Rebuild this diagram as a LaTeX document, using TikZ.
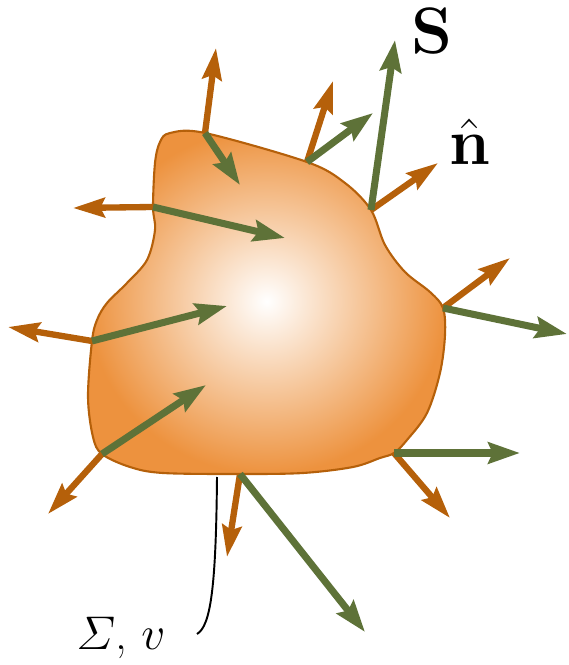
\documentclass[tikz,border=0pt]{standalone}
\usepackage{amsmath,amssymb}
\usetikzlibrary{arrows.meta}

\definecolor{rust}{RGB}{181,96,10}
\definecolor{olive}{RGB}{94,114,56}
\definecolor{peach}{RGB}{237,146,62}

\begin{document}
\begin{tikzpicture}[
    normal/.style={draw=rust, line width=3.6pt, -{Stealth[length=18pt, width=11pt, inset=2.5pt]}},
    flux/.style={draw=olive, line width=4pt, -{Stealth[length=18pt, width=12pt, inset=2.5pt]}},
    blob/.style={draw=rust, line width=1.2pt, inner color=white, outer color=peach},
    lab/.style={font=\Huge, inner sep=0pt, anchor=base west}
  ]
    \useasboundingbox (0,0) rectangle (11.36,13.30);

    % points on the surface
    \coordinate (pA) at (4.10,10.64);
    \coordinate (pB) at (6.14,10.06);
    \coordinate (pC) at (7.42,9.10);
    \coordinate (pD) at (8.86,7.14);
    \coordinate (pE) at (7.88,4.24);
    \coordinate (pF) at (4.80,3.82);
    \coordinate (pG) at (2.04,4.22);
    \coordinate (pH) at (1.84,6.48);
    \coordinate (pI) at (3.06,9.16);

    % the volume
    \path[blob] plot[smooth cycle, tension=0.55] coordinates {
      (3.40,10.64) (pA) (pB) (6.90,9.64) (pC) (7.70,8.40) (8.10,7.86) (8.60,7.46)
      (pD) (8.90,6.60) (8.80,5.84) (8.54,5.04) (8.14,4.50) (pE) (7.60,4.14)
      (7.06,3.96) (6.06,3.84) (pF) (3.26,3.84) (2.60,3.96) (pG) (1.86,4.56)
      (1.76,5.36) (pH) (1.94,6.90) (2.14,7.24) (2.54,7.64) (2.94,8.10)
      (3.10,8.70) (pI) (3.10,10.04) (3.20,10.46)};

    % outward normals
    \draw[normal] (pA) -- (4.32,12.34);
    \draw[normal] (pB) -- (6.66,11.68);
    \draw[normal] (pC) -- (8.76,10.04);
    \draw[normal] (pD) -- (10.20,8.14);
    \draw[normal] (pE) -- (9.00,2.94);
    \draw[normal] (pF) -- (4.54,2.16);
    \draw[normal] (pG) -- (0.96,3.02);
    \draw[normal] (pH) -- (0.16,6.76);
    \draw[normal] (pI) -- (1.46,9.14);

    % flux vectors
    \draw[flux] (pA) -- (4.80,9.60);
    \draw[flux] (pB) -- (7.46,11.04);
    \draw[flux] (pC) -- (7.90,12.50);
    \draw[flux] (pD) -- (11.34,6.62);
    \draw[flux] (pE) -- (10.40,4.24);
    \draw[flux] (pF) -- (7.30,0.66);
    \draw[flux] (pG) -- (4.12,5.60);
    \draw[flux] (pH) -- (4.54,7.18);
    \draw[flux] (pI) -- (5.70,8.54);

    % labels
    \node[lab, scale=1.5] (svec) at (8.22,12.22) {$\mathbf{S}$};
    \node[lab, scale=1.5] (nhat) at (8.98,10.00) {$\hat{\mathbf{n}}$};
    \node[lab, scale=1.08] (surf) at (1.52,0.30) {$\varSigma$, $v$};

    % leader to the surface
    \coordinate (lead) at (4.34,3.76);
    \coordinate (tag) at (3.94,0.62);
    \draw[line width=1.1pt] (lead) .. controls (4.32,1.60) and (4.22,0.78) .. (tag);
  \end{tikzpicture}
\end{document}
